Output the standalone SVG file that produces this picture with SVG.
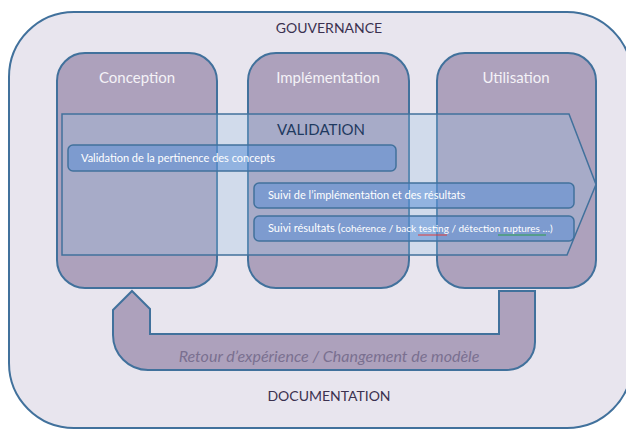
<svg xmlns="http://www.w3.org/2000/svg" width="626" height="429" viewBox="0 0 626 429">
  <style>
    text { font-family: Lato, "Liberation Sans", sans-serif; }
    .frame { fill: #E8E5EE; stroke: #41719C; stroke-width: 2; }
    .phase { fill: #ADA1BC; stroke: #41719C; stroke-width: 2; }
    .phase-title { fill: #F4F2F7; font-size: 15px; text-anchor: middle; }
    .band { fill: #9DC3E6; fill-opacity: 0.3; stroke: #41719C; stroke-width: 1.5; }
    .bar { fill: #548CD6; fill-opacity: 0.5; stroke: #41719C; stroke-width: 1.5; }
    .bar-text { fill: #FFFFFF; font-size: 11px; }
    .label-dark { fill: #3B3150; font-size: 14px; text-anchor: middle; }
    .loop { fill: #ADA1BC; stroke: #41719C; stroke-width: 2; }
    .loop-text { fill: #7A7090; font-size: 16px; font-style: italic; text-anchor: middle; }
  </style>

  <!-- governance frame -->
  <g id="gouvernance">
    <rect class="frame" x="9" y="12" width="623" height="416" rx="65" ry="65"/>
    <text class="label-dark" x="329" y="33">GOUVERNANCE</text>
    <text class="label-dark" x="329" y="401">DOCUMENTATION</text>
  </g>

  <!-- lifecycle phases -->
  <g id="conception">
    <rect class="phase" x="57" y="53" width="160" height="235" rx="28" ry="28"/>
    <text class="phase-title" x="137" y="83">Conception</text>
  </g>
  <g id="implementation">
    <rect class="phase" x="248" y="53" width="161" height="235" rx="28" ry="28"/>
    <text class="phase-title" x="328" y="83">Implémentation</text>
  </g>
  <g id="utilisation">
    <rect class="phase" x="437" y="53" width="159" height="235" rx="28" ry="28"/>
    <text class="phase-title" x="516" y="83">Utilisation</text>
  </g>

  <!-- validation band spanning the phases -->
  <g id="validation">
    <path class="band" d="M62,114 L569,114 L596,184.5 L567,255 L62,255 Z"/>
    <text x="321" y="135" fill="#1F3A5F" font-size="15" text-anchor="middle">VALIDATION</text>
  </g>

  <g id="pertinence">
    <rect class="bar" x="68" y="145" width="328" height="26" rx="5" ry="5"/>
    <text class="bar-text" x="81" y="162">Validation de la pertinence des concepts</text>
  </g>
  <g id="suivi-implementation">
    <rect class="bar" x="254" y="183" width="320" height="25" rx="5" ry="5"/>
    <text class="bar-text" x="268" y="199">Suivi de l’implémentation et des résultats</text>
  </g>
  <g id="suivi-resultats">
    <rect class="bar" x="254" y="216" width="320" height="25" rx="5" ry="5"/>
    <text class="bar-text" x="268" y="232">Suivi résultats (<tspan font-size="10">cohérence / back testing / détection ruptures …)</tspan></text>
    <line x1="418" y1="235" x2="447" y2="235" stroke="#E03C3C" stroke-width="1"/>
    <line x1="498" y1="235" x2="546" y2="235" stroke="#2E9E48" stroke-width="1"/>
  </g>

  <!-- feedback loop from Utilisation back to Conception -->
  <g id="connectors">
    <path class="loop" d="M132,291 L150,309 L150,334 L499,334 L499,291 L535,291 L535,342 A28,28 0 0 1 507,370 L148,370 A35,35 0 0 1 113,335 L113,310 Z"/>
    <text class="loop-text" x="329" y="362">Retour d’expérience / Changement de modèle</text>
  </g>
</svg>
